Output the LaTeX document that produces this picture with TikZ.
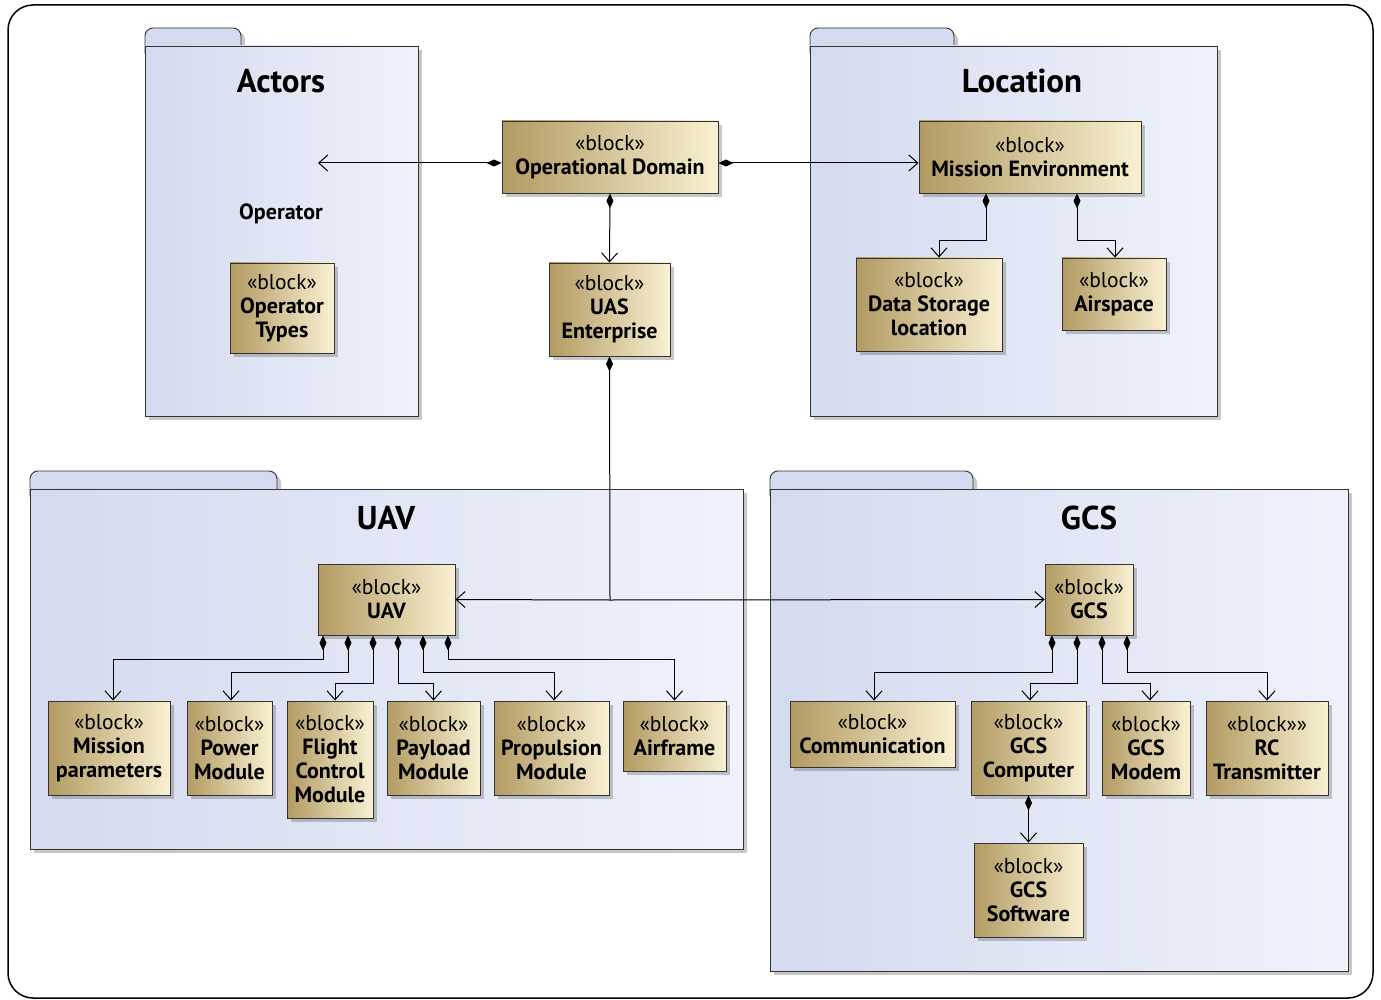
\documentclass[tikz,border=0pt]{standalone}
\usepackage{fontspec}
\setmainfont{PT Sans}
\usetikzlibrary{arrows.meta,shadows}
\definecolor{pkgL}{RGB}{212,218,239}
\definecolor{pkgR}{RGB}{239,242,251}
\definecolor{blkL}{RGB}{178,154,98}
\definecolor{blkR}{RGB}{249,241,210}
\newcommand\stereo{{\mdseries\fontsize{21.5}{24}\selectfont «block»}}
\tikzset{
  shad/.style={drop shadow={shadow xshift=4pt,shadow yshift=-4pt,opacity=0.3,fill=black!70}},
  pkgbody/.style={draw=black!80,line width=0.9pt,left color=pkgL,right color=pkgR,shad},
  pkgtab/.style={draw=black!80,line width=0.9pt,fill=pkgL,rounded corners=8pt,shad},
  pkgtitle/.style={font=\fontsize{33}{36}\selectfont\bfseries},
  blk/.style={draw=black!80,line width=0.9pt,left color=blkL,right color=blkR,shad,
    align=center,inner sep=0pt,font=\fontsize{22}{24}\selectfont\bfseries},
  conn/.style={draw=black,line width=1pt},
  comp/.style={conn,{Diamond[length=15pt,width=7pt]}-{Straight Barb[length=9pt,width=16pt]}},
  arr/.style={conn,-{Straight Barb[length=9pt,width=16pt]}},
  diaonly/.style={conn,{Diamond[length=15pt,width=7pt]}-},
}
\begin{document}
\begin{tikzpicture}[x=1pt,y=-1pt]
\useasboundingbox (0,0) rectangle (1381,1000);
\fill[white] (0,0) rectangle (1381,1000);
\draw[line width=1.5pt,rounded corners=25pt] (8,5) rectangle (1373,998);

% packages
\path[pkgtab] (145,28) rectangle (241,60);
\path[pkgbody] (145,46) rectangle (418,416);
\node[pkgtitle] (tactors) at (281,81) {Actors};

\path[pkgtab] (810,28) rectangle (954,60);
\path[pkgbody] (810,46) rectangle (1217,416);
\node[pkgtitle] (tloc) at (1022,81) {Location};

\path[pkgtab] (30,471) rectangle (277,503);
\path[pkgbody] (30,489) rectangle (743,849);
\node[pkgtitle] (tuav) at (386,518) {UAV};

\path[pkgtab] (770,471) rectangle (973,503);
\path[pkgbody] (770,489) rectangle (1348,971);
\node[pkgtitle] (tgcs) at (1089,518) {GCS};

% blocks
\node[blk,minimum width=216pt,minimum height=72pt] (od) at (610,157) {\stereo\\Operational Domain};
\node[blk,minimum width=121pt,minimum height=93pt] (uas) at (609.5,309.5) {\stereo\\UAS\\Enterprise};
\node[blk,minimum width=222pt,minimum height=72pt] (me) at (1030,157) {\stereo\\Mission Environment};
\node[blk,minimum width=146pt,minimum height=93pt] (ds) at (929,304.5) {\stereo\\Data Storage\\location};
\node[blk,minimum width=104pt,minimum height=72pt] (air) at (1114,294) {\stereo\\Airspace};
\node[font=\fontsize{22}{24}\selectfont\bfseries] (oplabel) at (281,214) {Operator};
\node[blk,minimum width=104pt,minimum height=90pt] (opt) at (282,308) {\stereo\\Operator\\Types};

\node[blk,minimum width=137pt,minimum height=71pt] (uav) at (386.5,599.5) {\stereo\\UAV};
\node[blk,minimum width=122pt,minimum height=94pt] (mp) at (109,748) {\stereo\\Mission\\parameters};
\node[blk,minimum width=85pt,minimum height=94pt] (pm) at (229.5,748) {\stereo\\Power\\Module};
\node[blk,minimum width=86pt,minimum height=117pt] (fcm) at (330,759.5) {\stereo\\Flight\\Control\\Module};
\node[blk,minimum width=93pt,minimum height=94pt] (plm) at (433.5,748) {\stereo\\Payload\\Module};
\node[blk,minimum width=115pt,minimum height=94pt] (prop) at (551.5,748) {\stereo\\Propulsion\\Module};
\node[blk,minimum width=103pt,minimum height=70pt] (af) at (674.5,736) {\stereo\\Airframe};

\node[blk,minimum width=88pt,minimum height=71pt] (gcs) at (1089,599.5) {\stereo\\GCS};
\node[blk,minimum width=165pt,minimum height=66pt] (comm) at (872.5,734) {\stereo\\Communication};
\node[blk,minimum width=115pt,minimum height=94pt] (gc) at (1028.5,748) {\stereo\\GCS\\Computer};
\node[blk,minimum width=88pt,minimum height=94pt] (gm) at (1146,748) {\stereo\\GCS\\Modem};
\node[blk,minimum width=122pt,minimum height=94pt] (rc) at (1267,748) {{\mdseries\fontsize{21.5}{24}\selectfont «block»»}\\RC\\Transmitter};
\node[blk,minimum width=109pt,minimum height=94pt] (gsw) at (1028.5,890) {\stereo\\GCS\\Software};

% connectors
\coordinate (opend) at (318,163);
\draw[comp] ([yshift=-6pt]od.west) -- (opend);
\draw[comp] ([yshift=-6pt]od.east) -- ([yshift=-6pt]me.west);
\draw[comp] (od.south) -- (uas.north);
\coordinate (j) at (610,600);
\draw[diaonly] (uas.south) -- (j);
\draw[arr] (j) -- (uav.east);
\draw[arr] (j) -- (gcs.west);

\draw[comp] ([xshift=-44pt]me.south) -- ++(0,47) -| ([xshift=10pt]ds.north);
\draw[comp] ([xshift=47pt]me.south) -- ++(0,47) -| ([xshift=1pt]air.north);

\draw[comp] ([xshift=-63.5pt]uav.south) -- ++(0,24) -| ([xshift=4pt]mp.north);
\draw[comp] ([xshift=-38.5pt]uav.south) -- ++(0,37) -| ([xshift=1.5pt]pm.north);
\draw[comp] ([xshift=-13.5pt]uav.south) -- ++(0,48) -| ([xshift=5pt]fcm.north);
\draw[comp] ([xshift=11.5pt]uav.south) -- ++(0,48) -| (plm.north);
\draw[comp] ([xshift=36.5pt]uav.south) -- ++(0,37) -| ([xshift=2.5pt]prop.north);
\draw[comp] ([xshift=61.5pt]uav.south) -- ++(0,24) -| (af.north);

\draw[comp] ([xshift=-37pt]gcs.south) -- ++(0,37) -| ([xshift=1.5pt]comm.north);
\draw[comp] ([xshift=-12pt]gcs.south) -- ++(0,48) -| ([xshift=1.5pt]gc.north);
\draw[comp] ([xshift=13pt]gcs.south) -- ++(0,48) -| ([xshift=4pt]gm.north);
\draw[comp] ([xshift=38pt]gcs.south) -- ++(0,37) -| (rc.north);
\draw[comp] (gc.south) -- (gsw.north);
\end{tikzpicture}
\end{document}
